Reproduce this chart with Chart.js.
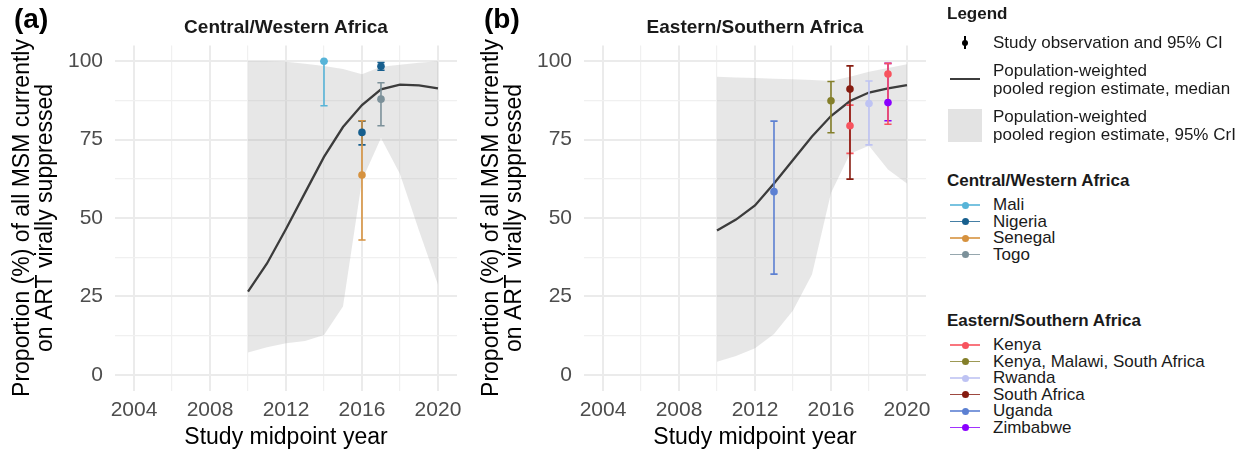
<!DOCTYPE html>
<html>
<head>
<meta charset="utf-8">
<script src="https://cdn.jsdelivr.net/npm/chart.js@4.4.1/dist/chart.umd.min.js"></script>
<style>
  html, body { margin: 0; padding: 0; background: #fff; }
  body { width: 1250px; height: 454px; overflow: hidden; position: relative;
         font-family: 'Liberation Sans', Arial, Helvetica, sans-serif; color: #1a1a1a; }
  canvas.panel { position: absolute; top: 0; }
  .tag { position: absolute; top: 0; font-weight: bold; font-size: 28px; line-height: 38px; color: #000; }
  .ptitle { position: absolute; top: 16px; font-weight: bold; font-size: 19px; line-height: 22px;
            color: #1a1a1a; transform: translateX(-50%); white-space: nowrap; }
  .lg { position: absolute; font-size: 17px; line-height: 18px; white-space: nowrap; color: #1a1a1a; }
  .lg.head { font-weight: bold; }
  .ico { position: absolute; }
</style>
</head>
<body>
<canvas id="cw" class="panel" width="469" height="454" style="left:0px"></canvas>
<canvas id="es" class="panel" width="469" height="454" style="left:469px"></canvas>
<div class="tag" style="left:14px">(a)</div>
<div class="tag" style="left:484px">(b)</div>
<div class="ptitle" style="left:286px">Central/Western Africa</div>
<div class="ptitle" style="left:755px">Eastern/Southern Africa</div>
<div id="legend"></div>
<script>
// Modelled years for the pooled regional estimates
const years = [2010, 2011, 2012, 2013, 2014, 2015, 2016, 2017, 2018, 2019, 2020];

// Central/Western Africa: pooled median and 95% CrI
const cwMedian = [26.5, 35.5, 46.5, 58, 69.5, 79, 86, 91, 92.5, 92.3, 91.3];
const cwLower  = [7.1, 8.8, 10.1, 10.8, 12.7, 21.8, 62, 75.5, 64, 46, 28.7];
const cwUpper  = [100, 100, 99.8, 99.2, 98.5, 97.5, 95.8, 98.2, 98.9, 99.5, 100];

// Eastern/Southern Africa: pooled median and 95% CrI
const esMedian = [46, 49.5, 54, 61, 68.5, 76, 82.5, 87.3, 90, 91.3, 92.4];
const esLower  = [4.2, 6, 8.5, 13, 20.5, 32, 58, 70.5, 73, 65.5, 61];
const esUpper  = [95, 94.8, 94.6, 94.4, 94.2, 94, 93.7, 95, 96.6, 97.8, 99];

// Study observations (estimate and 95% CI), Central/Western Africa
const cwCountry = ['Mali', 'Nigeria', 'Nigeria', 'Senegal', 'Togo'];
const cwYear    = [2014, 2016, 2017, 2016, 2017];
const cwEst     = [100, 77.3, 98.4, 63.7, 87.9];
const cwLow     = [85.8, 73.3, 97.1, 43, 79.4];
const cwHigh    = [100, 80.9, 99.6, 81, 93.1];

// Study observations (estimate and 95% CI), Eastern/Southern Africa
const esCountry = ['Zimbabwe', 'Kenya', 'Kenya', 'Kenya, Malawi, South Africa', 'Rwanda', 'South Africa', 'Uganda'];
const esYear    = [2019, 2017, 2019, 2016, 2018, 2017, 2013];
const esEst     = [86.8, 79.4, 95.9, 87.4, 86.5, 91.1, 58.4];
const esLow     = [81, 70.6, 79.9, 77.2, 73.3, 62.4, 32.1];
const esHigh    = [99.3, 86, 99.3, 93.5, 93.7, 98.5, 80.9];

// Axis ticks
const xMajorTicks = [2004, 2008, 2012, 2016, 2020];
const yMajorTicks = [0, 25, 50, 75, 100];

// Legend groups
const cwLegend = ['Mali', 'Nigeria', 'Senegal', 'Togo'];
const esLegend = ['Kenya', 'Kenya, Malawi, South Africa', 'Rwanda', 'South Africa', 'Uganda', 'Zimbabwe'];

const countryColor = {
  'Mali': '#57B4D8',
  'Nigeria': '#175F8E',
  'Senegal': '#D6923F',
  'Togo': '#7C919A',
  'Kenya': '#F7535E',
  'Kenya, Malawi, South Africa': '#847F2A',
  'Rwanda': '#BEC3F3',
  'South Africa': '#861C10',
  'Uganda': '#5C80D2',
  'Zimbabwe': '#8A00FF'
};

const FONT = "'Liberation Sans', Arial, Helvetica, sans-serif";
const RIBBON = 'rgba(165,165,165,0.27)';

// minor grid positions sit halfway between major ticks
function withMinor(major) {
  const out = [];
  for (let i = 0; i < major.length; i++) {
    out.push(major[i]);
    if (i < major.length - 1) out.push((major[i] + major[i + 1]) / 2);
  }
  return out;
}
const xGrid = withMinor(xMajorTicks);
const yGrid = withMinor(yMajorTicks);

function makePanel(id, median, lower, upper, country, year, est, low, high) {
  const pts = arr => years.map((x, i) => ({ x: x, y: arr[i] }));
  const datasets = [
    { data: pts(upper), borderWidth: 0, pointRadius: 0, fill: '+1', backgroundColor: RIBBON, order: 30 },
    { data: pts(lower), borderWidth: 0, pointRadius: 0, fill: false, order: 31 },
    { data: pts(median), borderColor: '#3c3c3c', borderWidth: 2.3, pointRadius: 0, fill: false, order: 20 }
  ];
  country.forEach((c, i) => {
    const col = countryColor[c];
    // vertical interval with horizontal caps
    datasets.push({
      data: [{ x: year[i], y: low[i] }, { x: year[i], y: high[i] }],
      borderColor: col, borderWidth: 1.6, fill: false,
      pointStyle: 'line', pointRadius: 3.6, pointBorderWidth: 1.6,
      pointBorderColor: col, pointBackgroundColor: col,
      order: 10 - i * 0.1
    });
    // point estimate
    datasets.push({
      data: [{ x: year[i], y: est[i] }],
      showLine: false, pointStyle: 'circle', pointRadius: 3.8, pointBorderWidth: 0,
      pointBackgroundColor: col, pointBorderColor: col,
      order: 2 - i * 0.1
    });
  });

  return new Chart(document.getElementById(id), {
    type: 'line',
    data: { datasets: datasets },
    options: {
      responsive: false,
      animation: false,
      devicePixelRatio: 1,
      layout: { padding: { top: 45.5, right: 12, left: 0, bottom: 0 } },
      plugins: { legend: { display: false }, tooltip: { enabled: false }, title: { display: false } },
      elements: { line: { tension: 0 } },
      scales: {
        x: {
          type: 'linear', min: 2003, max: 2021,
          afterBuildTicks: s => { s.ticks = xGrid.map(v => ({ value: v })); },
          afterFit: s => { s.height = 63.5; },
          border: { display: false },
          grid: {
            drawTicks: false,
            color: ctx => xMajorTicks.includes(ctx.tick && ctx.tick.value) ? '#ebebeb' : '#f0f0f0',
            lineWidth: ctx => xMajorTicks.includes(ctx.tick && ctx.tick.value) ? 2 : 1.2
          },
          ticks: {
            autoSkip: false, maxRotation: 0, minRotation: 0, padding: 7,
            color: '#4d4d4d', font: { family: FONT, size: 21 },
            callback: v => xMajorTicks.includes(v) ? String(v) : ''
          },
          title: {
            display: true, text: 'Study midpoint year', color: '#000',
            font: { family: FONT, size: 23, lineHeight: 1 },
            padding: { top: 0, bottom: 4.5 }
          }
        },
        y: {
          type: 'linear', min: -5, max: 105,
          afterBuildTicks: s => { s.ticks = yGrid.map(v => ({ value: v })); },
          afterFit: s => { s.width = 115; },
          border: { display: false },
          grid: {
            drawTicks: false,
            color: ctx => yMajorTicks.includes(ctx.tick && ctx.tick.value) ? '#ebebeb' : '#f0f0f0',
            lineWidth: ctx => yMajorTicks.includes(ctx.tick && ctx.tick.value) ? 2 : 1.2
          },
          ticks: {
            autoSkip: false, padding: 12,
            color: '#4d4d4d', font: { family: FONT, size: 21 },
            callback: v => yMajorTicks.includes(v) ? String(v) : ''
          },
          title: {
            display: true,
            text: ['Proportion (%) of all MSM currently', 'on ART virally suppressed'],
            color: '#000',
            font: { family: FONT, size: 23, lineHeight: 1 },
            padding: { top: 11, bottom: 0 }
          }
        }
      }
    }
  });
}

makePanel('cw', cwMedian, cwLower, cwUpper, cwCountry, cwYear, cwEst, cwLow, cwHigh);
makePanel('es', esMedian, esLower, esUpper, esCountry, esYear, esEst, esLow, esHigh);

// Legend built as HTML next to the panels
(function buildLegend() {
  const L = document.getElementById('legend');
  const add = html => L.insertAdjacentHTML('beforeend', html);
  const text = (y, s, cls) => add('<div class="lg ' + (cls || '') + '" style="left:' + (cls === 'head' ? 947 : 993) + 'px;top:' + (y - 9) + 'px">' + s + '</div>');

  text(14, 'Legend', 'head');
  // observation + CI symbol
  add('<div class="ico" style="left:964px;top:36px;width:2px;height:13px;background:#000"></div>');
  add('<div class="ico" style="left:962px;top:40px;width:6px;height:6px;border-radius:50%;background:#000"></div>');
  text(43, 'Study observation and 95% CI');
  // median line symbol
  add('<div class="ico" style="left:950px;top:78px;width:30px;height:2.3px;background:#3c3c3c"></div>');
  text(71, 'Population-weighted');
  text(89, 'pooled region estimate, median');
  // credible interval symbol
  add('<div class="ico" style="left:948px;top:109px;width:34px;height:33px;background:#e3e3e3"></div>');
  text(117, 'Population-weighted');
  text(135, 'pooled region estimate, 95% CrI');

  const group = (y0, title, names) => {
    text(y0, title, 'head');
    names.forEach((n, i) => {
      const y = y0 + 24 + i * 16.5;
      const col = countryColor[n];
      add('<div class="ico" style="left:950px;top:' + (y - 0.8) + 'px;width:30px;height:1.6px;background:' + col + ';opacity:0.8"></div>');
      add('<div class="ico" style="left:961.5px;top:' + (y - 3.5) + 'px;width:7px;height:7px;border-radius:50%;background:' + col + '"></div>');
      text(y, n);
    });
  };
  group(181, 'Central/Western Africa', cwLegend);
  group(321, 'Eastern/Southern Africa', esLegend);
})();
</script>
</body>
</html>
